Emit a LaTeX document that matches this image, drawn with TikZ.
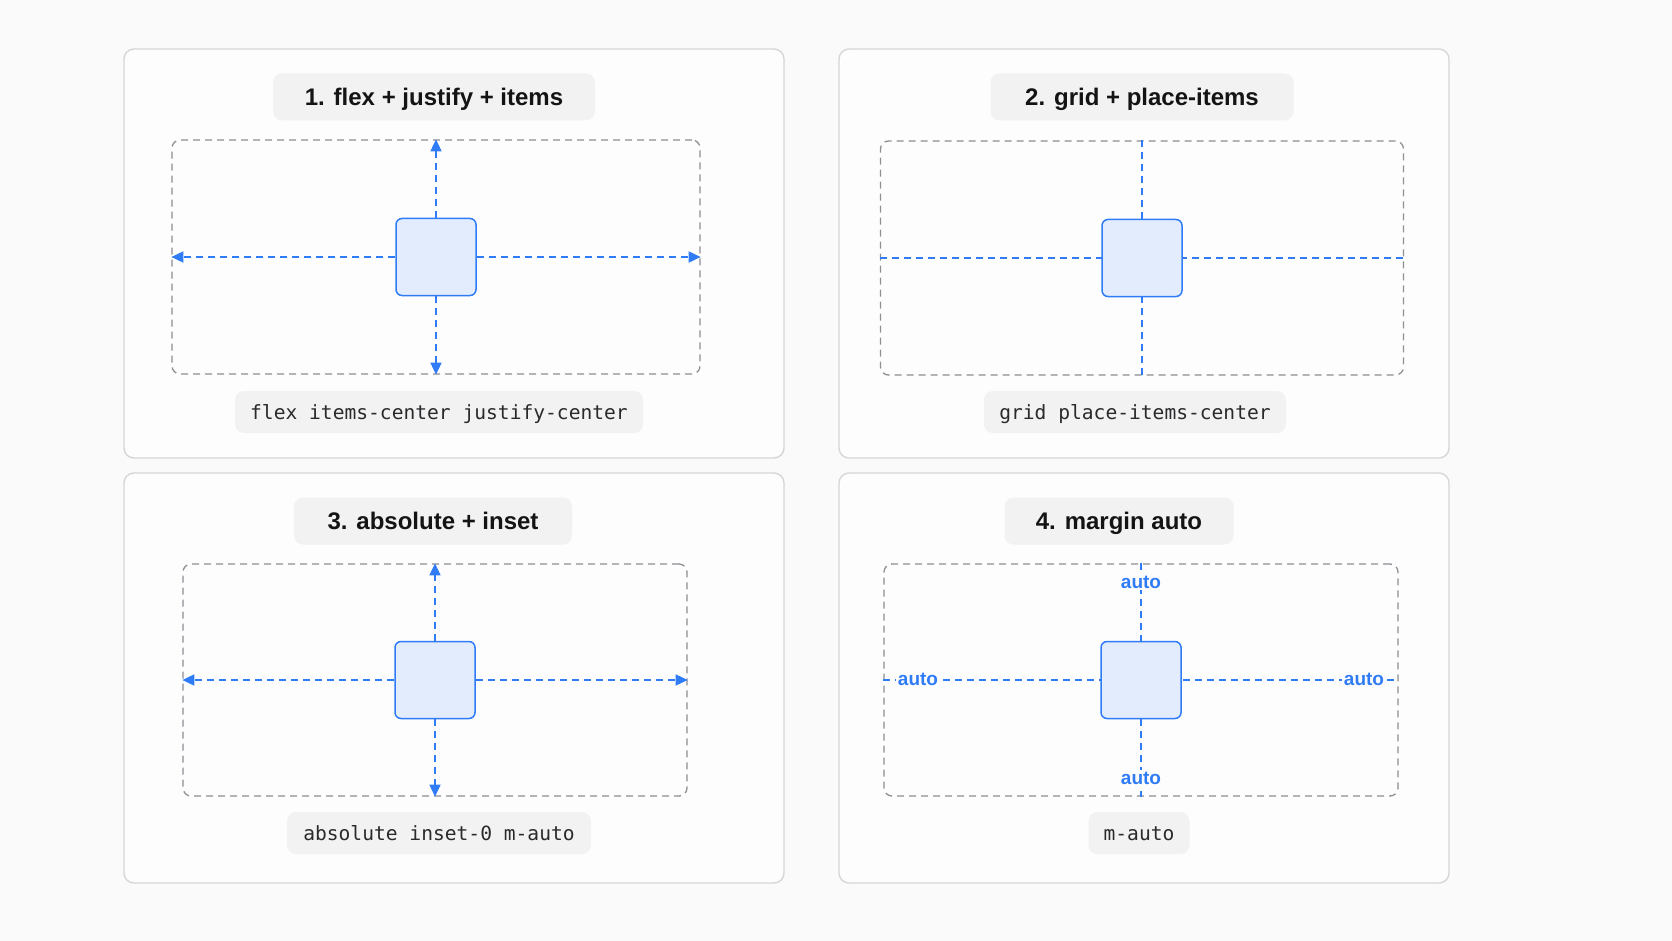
\documentclass[tikz,border=0pt]{standalone}
\usepackage{fontspec}
\setmainfont{Liberation Sans}
\newfontfamily\codefont{DejaVu Sans Mono}
\usetikzlibrary{arrows.meta}
\definecolor{bgc}{HTML}{FAFAFA}
\definecolor{panelc}{HTML}{FDFDFD}
\definecolor{panelb}{HTML}{D6D6DA}
\definecolor{pillc}{HTML}{F2F2F3}
\definecolor{boxb}{HTML}{8E8E94}
\definecolor{bluec}{HTML}{2F7CF6}
\definecolor{sqfill}{HTML}{E2ECFD}
\definecolor{titlec}{HTML}{141414}
\definecolor{codec}{HTML}{2A2A2C}
\tikzset{
  panel/.style={draw=panelb, line width=1.4pt, fill=panelc, rounded corners=10pt},
  titlepill/.style={fill=pillc, rounded corners=9pt, inner sep=0pt, minimum height=47pt, text height=17.2pt, text depth=0pt, text=titlec, font=\fontsize{24}{28}\selectfont\bfseries},
  codepill/.style={fill=pillc, rounded corners=9pt, inner sep=0pt, minimum height=42pt, text height=14pt, text depth=0pt, text=codec, font=\codefont\fontsize{19.6}{22}\selectfont},
  dbox/.style={draw=boxb, line width=1.3pt, dash pattern=on 7pt off 5pt, rounded corners=8pt, inner sep=0pt},
  sq/.style={draw=bluec, line width=1.5pt, fill=sqfill, rounded corners=6pt, inner sep=0pt, minimum width=80pt, minimum height=77pt},
  bline/.style={draw=bluec, line width=1.7pt, dash pattern=on 7pt off 5pt},
  barrow/.style={bline, -{Triangle[length=12pt,width=11pt]}},
  autolbl/.style={text=bluec, fill=panelc, inner sep=1.5pt, font=\fontsize{19}{22}\selectfont\bfseries}
}
\begin{document}
\begin{tikzpicture}[x=1pt,y=-1pt]
\fill[bgc] (0,0) rectangle (1672,941);
\useasboundingbox (0,0) rectangle (1672,941);
% panels
\draw[panel] (124,49) rectangle (784,458);
\draw[panel] (839,49) rectangle (1449,458);
\draw[panel] (124,473) rectangle (784,883);
\draw[panel] (839,473) rectangle (1449,883);

% ---------- Panel 1 ----------
\node[titlepill, minimum width=322pt] (t1) at (434,97) {1. flex + justify + items};
\node[dbox, minimum width=528pt, minimum height=234pt] (b1) at (436,257) {};
\node[sq] (s1) at (436,257) {};
\draw[barrow] (s1.north) -- (b1.north);
\draw[barrow] (s1.south) -- (b1.south);
\draw[barrow] (s1.west) -- (b1.west);
\draw[barrow] (s1.east) -- (b1.east);
\node[codepill, minimum width=408pt] (c1) at (439,412) {flex items-center justify-center};

% ---------- Panel 2 ----------
\node[titlepill, minimum width=303pt] (t2) at (1142,97) {2. grid + place-items};
\node[dbox, minimum width=523pt, minimum height=234pt] (b2) at (1142,258) {};
\draw[bline] (b2.north) -- (b2.south);
\draw[bline] (b2.west) -- (b2.east);
\node[sq] (s2) at (1142,258) {};
\node[codepill, minimum width=302pt] (c2) at (1135,412) {grid place-items-center};

% ---------- Panel 3 ----------
\node[titlepill, minimum width=278pt] (t3) at (433,521) {3. absolute + inset};
\node[dbox, minimum width=504pt, minimum height=232pt] (b3) at (435,680) {};
\node[sq] (s3) at (435,680) {};
\draw[barrow] (s3.north) -- (b3.north);
\draw[barrow] (s3.south) -- (b3.south);
\draw[barrow] (s3.west) -- (b3.west);
\draw[barrow] (s3.east) -- (b3.east);
\node[codepill, minimum width=304pt] (c3) at (439,833) {absolute inset-0 m-auto};

% ---------- Panel 4 ----------
\node[titlepill, minimum width=229pt] (t4) at (1119,521) {4. margin auto};
\node[dbox, minimum width=514pt, minimum height=232pt] (b4) at (1141,680) {};
\draw[bline] (b4.north) -- (b4.south);
\draw[bline] (b4.west) -- (b4.east);
\node[sq] (s4) at (1141,680) {};
\node[autolbl] (a1) at (1141,582) {auto};
\node[autolbl] (a2) at (1141,778) {auto};
\node[autolbl] (a3) at (918,679) {auto};
\node[autolbl] (a4) at (1364,679) {auto};
\node[codepill, minimum width=101pt] (c4) at (1139,833) {m-auto};
\end{tikzpicture}
\end{document}
